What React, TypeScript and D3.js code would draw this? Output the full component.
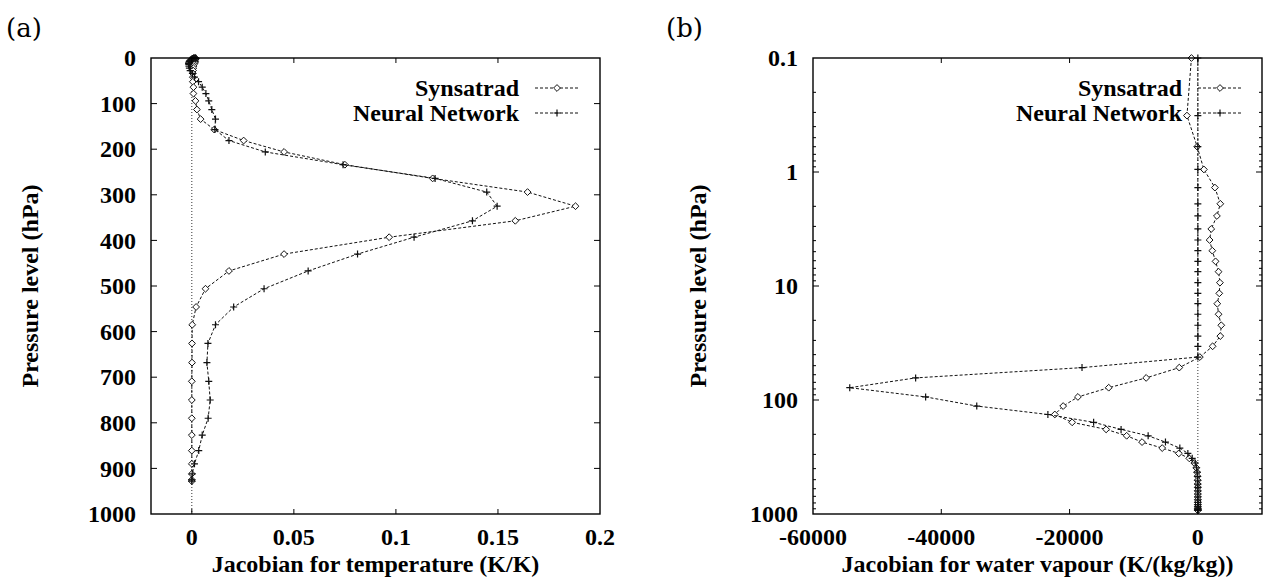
import React, { useEffect, useRef } from 'react';
import * as d3 from 'd3';

// pressure levels (hPa) shared by both panels
const levels = [
  0.1, 0.32, 0.6, 0.95, 1.37, 1.9, 2.43, 3.16, 3.95, 4.9,
  6.08, 7.49, 9.35, 11.6, 14.3, 17.7, 22.1, 27.5, 33.8, 42,
  52, 64, 78, 94, 113, 134, 157, 181, 206, 234,
  264, 294, 325, 357, 393, 430, 467, 506, 546, 585,
  626, 668, 709, 750, 790, 827, 861, 890, 912, 925, 928,
];

// (a) temperature jacobians (K/K)
const tempSynsatrad = [
  0.0008, 0.0012, 0.0015, 0.0018, 0.002, 0.0018, 0.0015, 0.0012, 0.001, 0.0012,
  0.0014, 0.0016, 0.0015, 0.0013, 0.001, 0.0008, 0.0007, 0.0006, 0.0005, 0.0005,
  0.0005, 0.0008, 0.0008, 0.0018, 0.0025, 0.0043, 0.011, 0.0254, 0.0452, 0.075,
  0.118, 0.1645, 0.188, 0.1585, 0.0967, 0.0452, 0.0182, 0.0067, 0.0021, 0.0002,
  0.0001, 0.0001, 0, 0, 0, 0, 0, 0, 0, 0, 0,
];
const tempNeural = [
  0.0015, 0.002, 0.0018, 0.001, 0.0005, 0.0002, 0, -0.0003, -0.0005, -0.0008,
  -0.001, -0.0012, -0.0015, -0.0016, -0.0015, -0.0014, -0.0012, -0.0008, 0.0003, 0.0013,
  0.0033, 0.0051, 0.0069, 0.0083, 0.0098, 0.0116, 0.0113, 0.0182, 0.036, 0.0741,
  0.1192, 0.1445, 0.1496, 0.1375, 0.1089, 0.0812, 0.057, 0.0354, 0.0205, 0.0116,
  0.0079, 0.0074, 0.0083, 0.009, 0.008, 0.0051, 0.0034, 0.0013, 0.0002, 0, 0,
];

// (b) water vapour jacobians (K/(kg/kg))
const wvSynsatrad = [
  -1000, -1700, -100, 940, 2660, 3500, 2970, 2090, 1830, 2250,
  2760, 3230, 3440, 3340, 3030, 3230, 3650, 3500, 2300, 310,
  -2900, -8060, -13900, -18700, -21000, -22300, -19600, -14300, -11100, -8700,
  -5560, -2970, -1340, -560, -250, -120, -60, -30, -20, -10,
  -5, 0, 0, 0, 0, 0, 0, 0, 0, 0, 0,
];
const wvNeural = [
  0, 0, 0, 0, 0, 0, 0, 0, 0, 0,
  0, 0, 0, 0, 0, 0, 0, 0, 0, 0,
  -18060, -44000, -54270, -42440, -34470, -23380, -16250, -11970, -7750, -5050,
  -2810, -1560, -880, -400, -200, -100, -50, -20, -10, 0,
  0, 0, 0, 0, 0, 0, 0, 0, 0, 0, 0,
];

const tempTicks = [0, 0.05, 0.1, 0.15, 0.2];
const linPressureTicks = [0, 100, 200, 300, 400, 500, 600, 700, 800, 900, 1000];
const wvTicks = [-60000, -40000, -20000, 0];
const logPressureTicks = [0.1, 1, 10, 100, 1000];
const seriesNames = ['Synsatrad', 'Neural Network'];

const FONT = '"Liberation Serif", "Times New Roman", serif';
const FS = 24;
const TOP = 58;
const BOTTOM = 514;

const App = () => {
  const ref = useRef<SVGSVGElement>(null);

  useEffect(() => {
    const svg = d3.select(ref.current);
    svg.selectAll('*').remove();

    const diamond = (g, x, y) => {
      g.append('path')
        .attr('d', `M${x},${y - 3.4}L${x + 3.4},${y}L${x},${y + 3.4}L${x - 3.4},${y}Z`)
        .attr('fill', 'white')
        .attr('stroke', '#111')
        .attr('stroke-width', 1);
    };
    const plus = (g, x, y) => {
      g.append('path')
        .attr('d', `M${x - 3.5},${y}H${x + 3.5}M${x},${y - 3.5}V${y + 3.5}`)
        .attr('stroke', '#111')
        .attr('stroke-width', 1.2);
    };

    const bold = (sel) => sel
      .attr('font-family', FONT)
      .attr('font-weight', 'bold')
      .attr('font-size', FS);

    const drawPanel = (opts) => {
      const { left, right, x, y, xTicks, yMajor, yMinor, series, xTitle, tag, tagX, yTitleX, legendTextX } = opts;
      const g = svg.append('g');

      // zero line
      g.append('line')
        .attr('x1', x(0)).attr('x2', x(0))
        .attr('y1', TOP).attr('y2', BOTTOM)
        .attr('stroke', '#333')
        .attr('stroke-width', 1)
        .attr('stroke-dasharray', '1,2');

      // series lines + markers
      series.forEach((s) => {
        const line = d3.line<number>()
          .x((d) => x(d))
          .y((d, i) => y(levels[i]));
        g.append('path')
          .datum(s.values)
          .attr('fill', 'none')
          .attr('stroke', '#111')
          .attr('stroke-width', 1)
          .attr('stroke-dasharray', '3,2')
          .attr('d', line);
        s.values.forEach((v, i) => s.marker(g, x(v), y(levels[i])));
      });

      // frame
      g.append('rect')
        .attr('x', left).attr('y', TOP)
        .attr('width', right - left).attr('height', BOTTOM - TOP)
        .attr('fill', 'none')
        .attr('stroke', '#000')
        .attr('stroke-width', 1.4);

      // x ticks (top & bottom, inward)
      xTicks.forEach((t) => {
        const px = x(t);
        if (px > left + 1 && px < right - 1) {
          g.append('line').attr('x1', px).attr('x2', px).attr('y1', BOTTOM).attr('y2', BOTTOM - 5).attr('stroke', '#000');
          g.append('line').attr('x1', px).attr('x2', px).attr('y1', TOP).attr('y2', TOP + 5).attr('stroke', '#000');
        }
        g.append('text')
          .attr('x', px).attr('y', 545)
          .attr('text-anchor', 'middle')
          .call(bold)
          .text(String(t));
      });

      // y ticks (left & right, inward)
      yMajor.forEach((t) => {
        const py = y(t);
        if (py > TOP + 1 && py < BOTTOM - 1) {
          g.append('line').attr('x1', left).attr('x2', left + 6).attr('y1', py).attr('y2', py).attr('stroke', '#000');
          g.append('line').attr('x1', right).attr('x2', right - 6).attr('y1', py).attr('y2', py).attr('stroke', '#000');
        }
        g.append('text')
          .attr('x', left - 15).attr('y', py)
          .attr('dy', '0.34em')
          .attr('text-anchor', 'end')
          .call(bold)
          .text(String(t));
      });
      yMinor.forEach((t) => {
        const py = y(t);
        g.append('line').attr('x1', left).attr('x2', left + 3).attr('y1', py).attr('y2', py).attr('stroke', '#000');
        g.append('line').attr('x1', right).attr('x2', right - 3).attr('y1', py).attr('y2', py).attr('stroke', '#000');
      });

      // axis titles
      g.append('text')
        .attr('x', (left + right) / 2).attr('y', 572)
        .attr('text-anchor', 'middle')
        .call(bold)
        .text(xTitle);
      g.append('text')
        .attr('transform', `translate(${yTitleX},${(TOP + BOTTOM) / 2}) rotate(-90)`)
        .attr('dy', '0.35em')
        .attr('text-anchor', 'middle')
        .call(bold)
        .text('Pressure level (hPa)');

      // panel tag
      g.append('text')
        .attr('x', tagX).attr('y', 37)
        .attr('font-family', '"DejaVu Serif", serif')
        .attr('font-size', 26)
        .text(tag);

      // legend
      series.forEach((s, i) => {
        const ly = 88 + i * 25;
        g.append('text')
          .attr('x', legendTextX).attr('y', ly)
          .attr('dy', '0.34em')
          .attr('text-anchor', 'end')
          .call(bold)
          .text(seriesNames[i]);
        g.append('line')
          .attr('x1', legendTextX + 16).attr('x2', legendTextX + 61)
          .attr('y1', ly).attr('y2', ly)
          .attr('stroke', '#111')
          .attr('stroke-dasharray', '3,2');
        s.marker(g, legendTextX + 38, ly);
      });
    };

    // (a) temperature
    const xa = d3.scaleLinear().domain([-0.02, 0.2]).range([151, 600]);
    const ya = d3.scaleLinear().domain([0, 1000]).range([TOP, BOTTOM]);
    drawPanel({
      left: 151, right: 600, x: xa, y: ya,
      xTicks: tempTicks, yMajor: linPressureTicks, yMinor: [],
      series: [
        { values: tempSynsatrad, marker: diamond },
        { values: tempNeural, marker: plus },
      ],
      xTitle: 'Jacobian for temperature (K/K)',
      tag: '(a)', tagX: 6, yTitleX: 30, legendTextX: 519,
    });

    // (b) water vapour
    const xb = d3.scaleLinear().domain([-60000, 10000]).range([813, 1262]);
    const yb = d3.scaleLog().domain([0.1, 1000]).range([TOP, BOTTOM]);
    const minor: number[] = [];
    logPressureTicks.slice(0, -1).forEach((d) => {
      for (let k = 2; k <= 9; k++) minor.push(d * k);
    });
    drawPanel({
      left: 813, right: 1262, x: xb, y: yb,
      xTicks: wvTicks, yMajor: logPressureTicks, yMinor: minor,
      series: [
        { values: wvSynsatrad, marker: diamond },
        { values: wvNeural, marker: plus },
      ],
      xTitle: 'Jacobian for water vapour (K/(kg/kg))',
      tag: '(b)', tagX: 666, yTitleX: 698, legendTextX: 1182,
    });
  }, []);

  return (
    <div style={{ position: 'absolute', left: 0, top: 0 }}>
      <svg ref={ref} width={1264} height={578} style={{ display: 'block', background: 'white' }} />
    </div>
  );
};

export default App;
